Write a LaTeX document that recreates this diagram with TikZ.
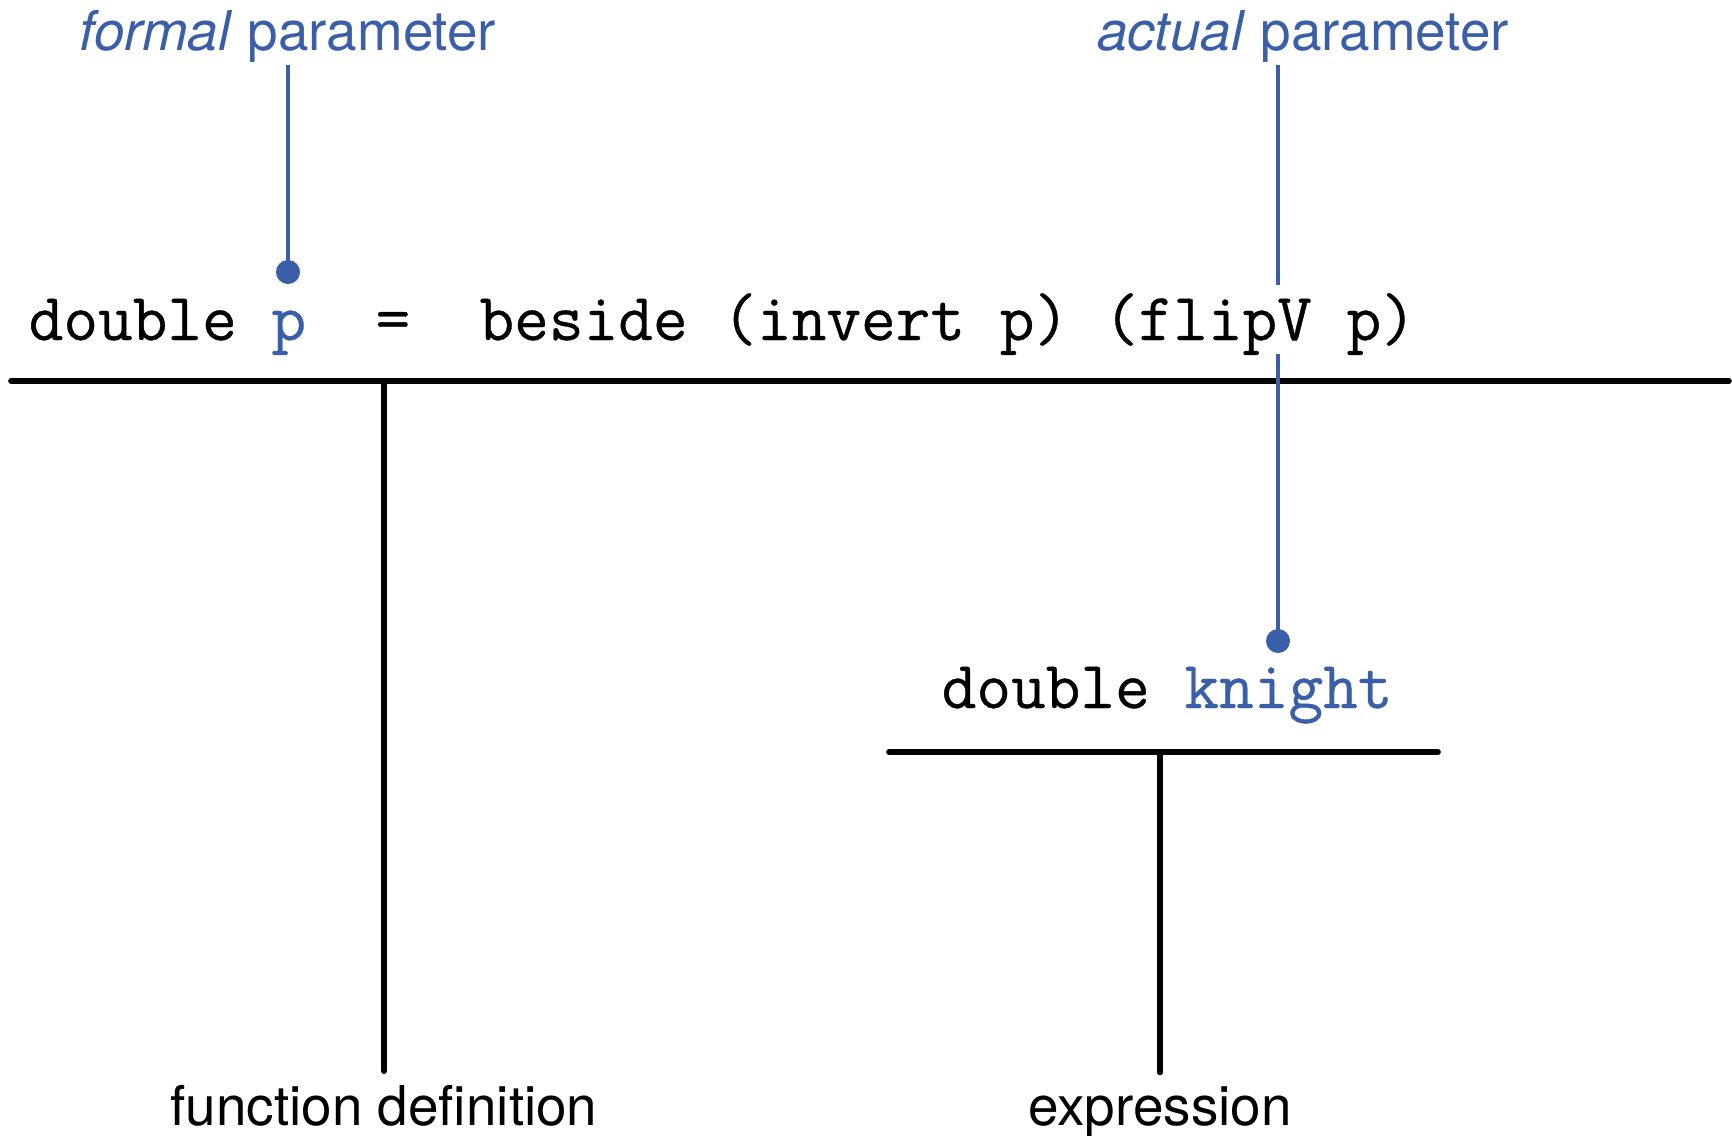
\documentclass[tikz,border=0pt]{standalone}
\usepackage{fontspec}
\newfontfamily\labelfont{TeX Gyre Heros}
\newfontfamily\codefont{Latin Modern Mono}[FakeBold=0.5]
\usepackage{xcolor}
\usepackage{tikz}
\usetikzlibrary{positioning, calc}
\definecolor{parblue}{RGB}{59,94,168}

\begin{document}
\begin{tikzpicture}[
        x=0.01cm, y=-0.01cm,
        codeline/.style={font=\fontsize{19.15pt}{22pt}\codefont, anchor=base west, inner xsep=0pt, inner ysep=0.01cm, text height=0.53cm, text depth=0.12cm},
        tag/.style={font=\fontsize{15.6pt}{18pt}\labelfont, anchor=base, inner sep=0.02cm, text=#1},
        tag/.default=black,
        capt/.style={tag=black, inner ysep=0.13cm},
        pdot/.style={circle, fill=parblue, minimum size=0.24cm, inner sep=0pt},
        bar/.style={line width=1.6pt, line cap=round},
        plink/.style={line width=1.25pt, parblue},
    ]
    \useasboundingbox (0,0) rectangle (1732,1136);

    % Definition line
    \node[codeline] (def) at (28,340) {double \textcolor{parblue}{p}~~=~~beside (invert p) (flipV p)};
    \coordinate (defL) at (11,381);
    \coordinate (defR) at (1729,381);
    \draw[bar] (defL) -- (defR);
    \node[capt] (fundef) at (384,1125) {function definition};
    \draw[bar] (fundef.north |- defL) -- (fundef.north);

    % Application line
    \node[codeline] (app) at (941,708) {double \textcolor{parblue}{knight}};
    \coordinate (appL) at (889,752);
    \coordinate (appR) at (1438,752);
    \draw[bar] (appL) -- (appR);
    \node[capt] (expr) at (1160,1125) {expression};
    \draw[bar] (expr.north |- appL) -- (expr.north);

    % Parameters
    \node[tag=parblue] (formal) at (288,50) {\textit{formal} parameter};
    \node[pdot] (fdot) at (288,272) {};
    \draw[plink] (formal.south) -- (fdot.center);

    \node[tag=parblue] (actual) at (1303,50) {\textit{actual} parameter};
    \node[pdot] (adot) at (1278,641) {};
    \draw[plink] (actual.south -| adot) -- (adot |- def.north);
    \draw[plink] (adot |- def.south) -- (adot.center);
\end{tikzpicture}
\end{document}
